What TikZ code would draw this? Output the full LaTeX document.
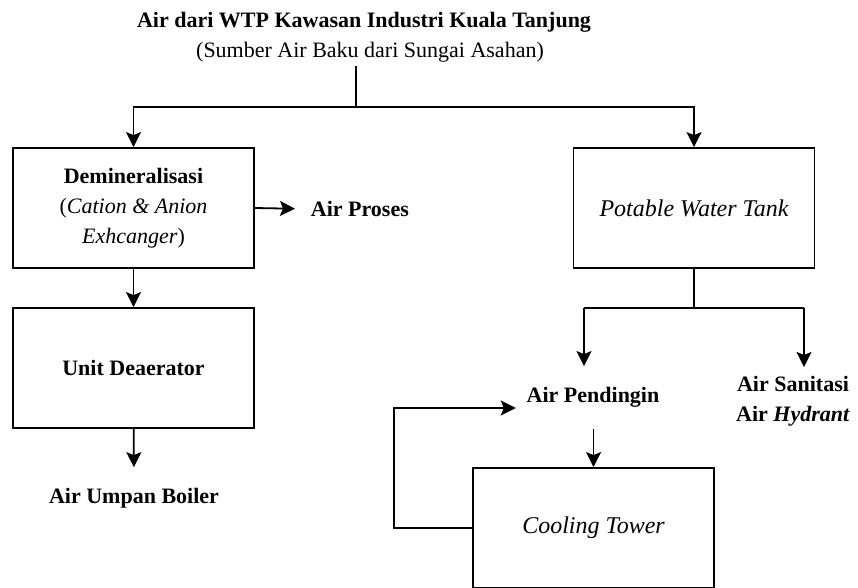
\documentclass[tikz,border=0pt]{standalone}
\usepackage{fontspec}
\setmainfont{Liberation Serif}
\usetikzlibrary{positioning, arrows.meta}

\begin{document}
\begin{tikzpicture}[x=1pt, y=-1pt, line width=1.8pt,
		txt/.style={font=\fontsize{22}{30}\selectfont, inner sep=0pt, align=center},
		bold/.style={txt, font=\fontsize{22}{30}\selectfont\bfseries},
		box/.style={txt, draw, minimum width=241pt, minimum height=120pt},
		tank/.style={box, font=\fontsize{24}{30}\selectfont\itshape},
		flow/.style={-{Stealth[length=15pt, width=15pt, inset=3pt]}}]
		\clip (0,0) rectangle (858,587);
		
		% --- Source ---
		\node[bold] (title) at (364,22) {Air dari WTP Kawasan Industri Kuala Tanjung};
		\node[txt] (sub) at (370,52) {(Sumber Air Baku dari Sungai Asahan)};
		\coordinate (split) at (356,107);
		
		% --- Left branch ---
		\node[box] (demin) at (133.5,208) {\textbf{Demineralisasi}\\(\textit{Cation \& Anion}\\\textit{Exhcanger})};
		\node[bold, anchor=west] (proses) at (310,209) {Air Proses};
		\node[box, font=\fontsize{22}{30}\selectfont\bfseries] (deaer) at (133.5,368) {Unit Deaerator};
		\node[bold] (boiler) at (134,498) {Air Umpan Boiler};
		
		% --- Right branch ---
		\node[tank] (potable) at (694,208) {Potable Water Tank};
		\coordinate (cl) at (584,308);
		\coordinate (cr) at (804,308);
		\node[bold] (pendingin) at (593,397) {Air Pendingin};
		\node[bold, anchor=north] (sanitasi) at (793,375) {Air Sanitasi\\Air \textit{Hydrant}};
		\node[tank] (cooling) at (593.5,528) {Cooling Tower};
		\coordinate (fb) at (394,408);
		
		% --- Connectors ---
		\draw (sub.south -| split) ++(0,3) -- (split);
		\draw[flow] (split) -| (demin.north);
		\draw[flow] (split) -| (potable.north);
		\draw[flow, shorten >=15pt] (demin.east) -- (proses.west);
		\draw[flow] (demin) -- (deaer);
		\draw[flow, shorten >=20pt] (deaer) -- (boiler);
		
		\draw (potable.south) -- (potable.south |- cl);
		\draw (cl) -- (cr);
		\draw[flow, shorten >=20pt] (cl) -- (cl |- pendingin.north);
		\draw[flow, shorten >=8pt] (cr) -- (cr |- sanitasi.north);
		\draw[flow, shorten <=21pt] (pendingin.south -| cooling.north) -- (cooling.north);
		\draw[flow, shorten >=10pt] (cooling.west) -| (fb) -- (fb -| pendingin.west);
	\end{tikzpicture}
\end{document}
